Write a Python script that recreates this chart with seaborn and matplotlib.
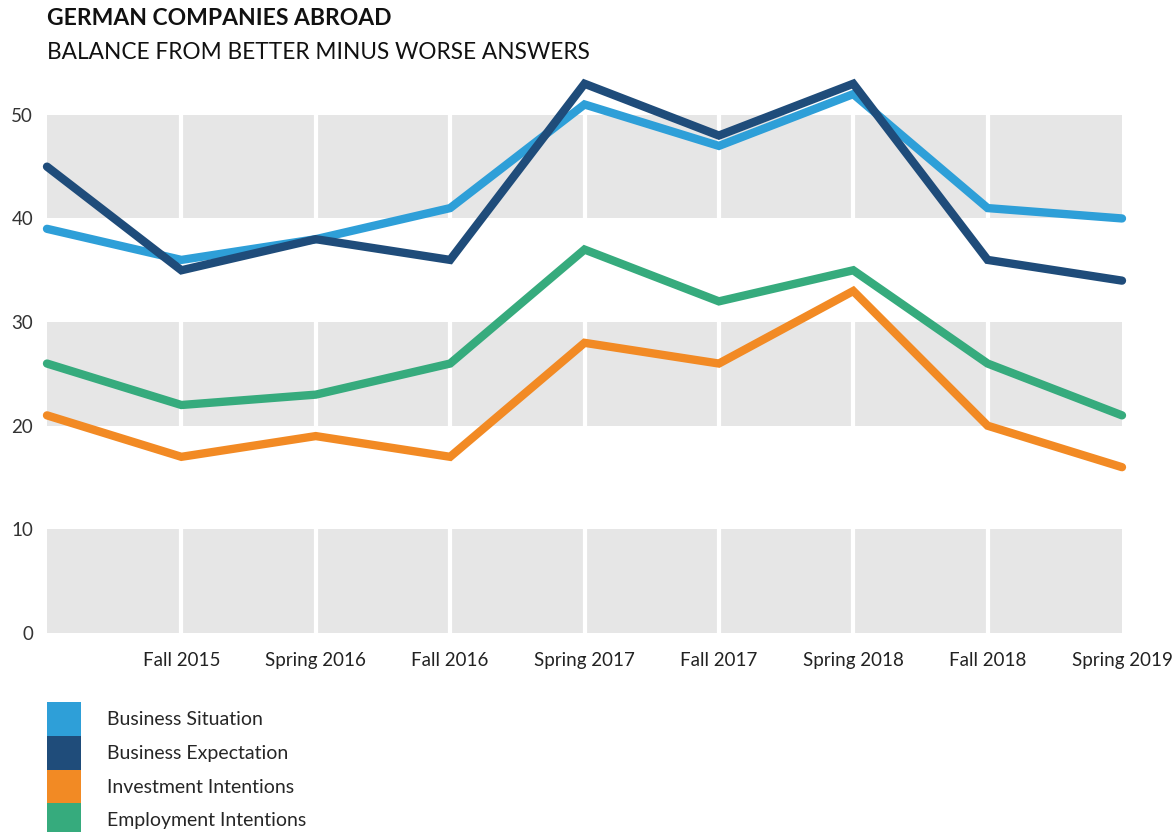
import pandas as pd
import matplotlib.pyplot as plt
import seaborn as sns
from matplotlib.patches import Patch

periods = ['Spring 2015', 'Fall 2015', 'Spring 2016', 'Fall 2016', 'Spring 2017',
           'Fall 2017', 'Spring 2018', 'Fall 2018', 'Spring 2019']
tick_labels = ['', 'Fall 2015', 'Spring 2016', 'Fall 2016', 'Spring 2017',
               'Fall 2017', 'Spring 2018', 'Fall 2018', 'Spring 2019']

business_situation = [39, 36, 38, 41, 51, 47, 52, 41, 40]
business_expectation = [45, 35, 38, 36, 53, 48, 53, 36, 34]
investment_intentions = [21, 17, 19, 17, 28, 26, 33, 20, 16]
employment_intentions = [26, 22, 23, 26, 37, 32, 35, 26, 21]

series = ['Business Situation', 'Business Expectation',
          'Investment Intentions', 'Employment Intentions']
colors = ['#2e9fd8', '#1f4c7a', '#f28a24', '#36ab7d']


def main():
    sns.set_style('white')
    plt.rcParams['font.family'] = ['Lato', 'DejaVu Sans']

    rows = []
    for name, vals in zip(series, [business_situation, business_expectation,
                                   investment_intentions, employment_intentions]):
        for i, v in enumerate(vals):
            rows.append({'x': i, 'value': v, 'series': name})
    df = pd.DataFrame(rows)

    fig = plt.figure(figsize=(11.76, 8.32), dpi=100)
    ax = fig.add_axes([47 / 1176, 1 - 633 / 832, (1122 - 47) / 1176, 570 / 832])

    # banded background
    for lo in [0, 20, 40]:
        ax.axhspan(lo, lo + 10, color='#e6e6e6', lw=0, zorder=0)
    ax.vlines(range(1, len(periods) - 1), 0, 50, color='white', lw=3, zorder=1)

    sns.lineplot(data=df, x='x', y='value', hue='series', hue_order=series,
                 palette=colors, linewidth=6, ax=ax, legend=False, zorder=3)
    for line in ax.lines:
        line.set_solid_joinstyle('miter')
        line.set_clip_on(False)

    ax.set_xlim(0, len(periods) - 1)
    ax.set_ylim(0, 55)
    ax.set_xticks(range(len(periods)))
    ax.set_xticklabels(tick_labels, fontsize=13.5, color='#222222')
    ax.set_yticks([0, 10, 20, 30, 40, 50])
    ax.set_yticklabels(['0', '10', '20', '30', '40', '50'], fontsize=13.5, color='#333333')
    ax.tick_params(axis='both', length=0)
    ax.tick_params(axis='x', pad=14)
    ax.tick_params(axis='y', pad=10)
    ax.set_xlabel('')
    ax.set_ylabel('')
    sns.despine(ax=ax, left=True, bottom=True)

    fig.text(47 / 1176, 1 - 8 / 832, 'GERMAN COMPANIES ABROAD', fontsize=16.5,
             fontweight='bold', va='top', ha='left', color='#111111')
    fig.text(47 / 1176, 1 - 42 / 832, 'BALANCE FROM BETTER MINUS WORSE ANSWERS',
             fontsize=16.3, va='top', ha='left', color='#111111')

    handles = [Patch(facecolor=c, edgecolor='none') for c in colors]
    fig.legend(handles, series, loc='upper left',
               bbox_to_anchor=(47 / 1176, 1 - 702 / 832), frameon=False,
               fontsize=14, handlelength=1.75, handleheight=2.3,
               labelspacing=0, handletextpad=1.35, borderpad=0, borderaxespad=0)

    fig.savefig('out.png', dpi=100)


if __name__ == '__main__':
    main()
